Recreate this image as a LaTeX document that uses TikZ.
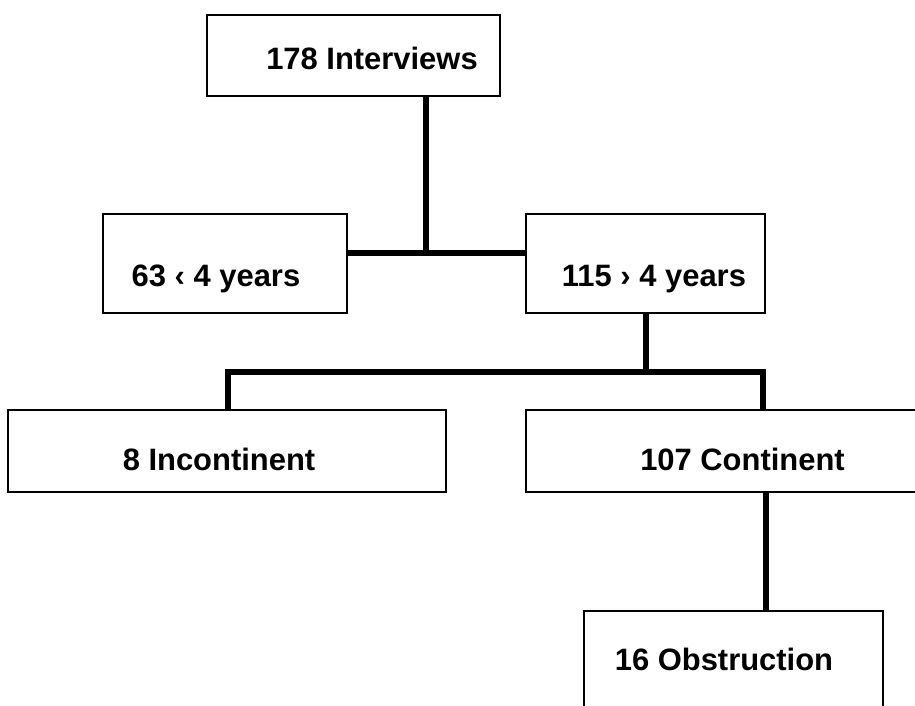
\documentclass[tikz,border=0pt]{standalone}
\usepackage{fontspec}
\setmainfont{Liberation Sans}
\begin{document}
\begin{tikzpicture}[font=\fontsize{17.6}{20}\selectfont\bfseries,
 box/.style={draw,rectangle,line width=0.05cm,inner sep=0pt,text depth=0pt},
 link/.style={line width=0.12cm}]
\useasboundingbox (0,0) rectangle (18.3,-14.12);
\node[box,minimum width=5.86cm,minimum height=1.62cm,text height=0.56cm] (intv) at (7.07,-1.11) {\hspace*{0.74cm}178 Interviews};
\node[box,minimum width=4.88cm,minimum height=1.98cm,text height=0.9cm] (lt4) at (4.50,-5.27) {63 ‹ 4 years\hspace*{0.36cm}};
\node[box,minimum width=4.78cm,minimum height=1.98cm,text height=0.9cm] (gt4) at (12.91,-5.27) {\hspace*{0.34cm}115 › 4 years};
\node[box,minimum width=8.76cm,minimum height=1.64cm,text height=0.78cm] (incont) at (4.54,-9.02) {8 Incontinent\hspace*{0.32cm}};
\node[box,minimum width=8.48cm,minimum height=1.64cm,text height=0.78cm] (cont) at (14.76,-9.02) {\hspace*{0.18cm}107 Continent};
\node[box,minimum width=5.98cm,minimum height=1.94cm,text height=0.44cm] (obstr) at (14.67,-13.19) {16 Obstruction\hspace*{0.38cm}};
\coordinate (j1) at (8.52,-5.06);
\coordinate (bl) at (4.56,-7.44);
\coordinate (br) at (15.26,-7.44);
\coordinate (k) at (15.32,-11);
\draw[link] (intv.south -| j1) -- (j1);
\draw[link] (lt4.east |- j1) -- (gt4.west |- j1);
\draw[link] (gt4.south) -- (gt4.south |- bl);
\draw[link] (incont.north -| bl) -- (bl) -- (br) -- (cont.north -| br);
\draw[link] (cont.south -| k) -- (obstr.north -| k);
\end{tikzpicture}
\end{document}
